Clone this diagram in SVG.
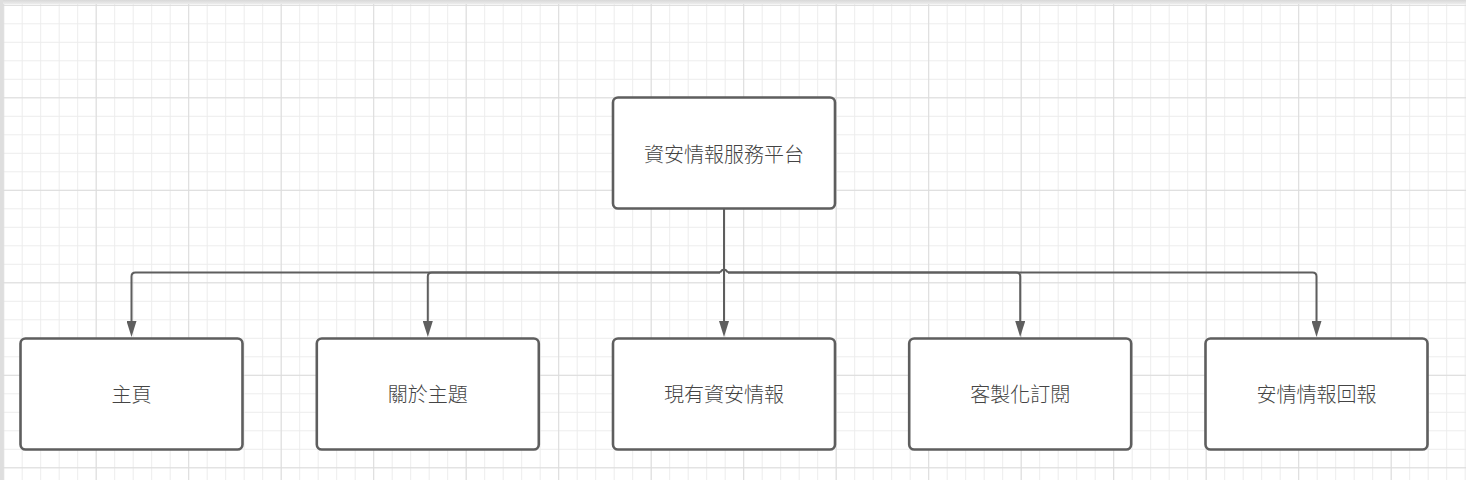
<svg xmlns="http://www.w3.org/2000/svg" width="1466" height="480" viewBox="0 0 1466 480">
  <defs>
    <pattern id="minor" patternUnits="userSpaceOnUse" x="3.2" y="4.8" width="18.5" height="18.5">
      <path d="M0 0.5 H18.5 M0.5 0 V18.5" stroke="#ececec" stroke-width="1" fill="none"/>
    </pattern>
    <pattern id="major" patternUnits="userSpaceOnUse" x="3.2" y="4.8" width="92.5" height="92.5">
      <path d="M0 0.5 H92.5 M0.5 0 V92.5" stroke="#dcdcdc" stroke-width="1" fill="none"/>
    </pattern>
    <linearGradient id="topbar" x1="0" y1="0" x2="0" y2="1">
      <stop offset="0" stop-color="#d8d8d8"/>
      <stop offset="1" stop-color="#ececec"/>
    </linearGradient>
    <marker id="arrow" markerUnits="userSpaceOnUse" markerWidth="16" markerHeight="10" refX="0" refY="5" orient="auto" viewBox="0 0 16 10">
      <path d="M0 0 L16 5 L0 10 Z" fill="#5e5e5e"/>
    </marker>
    <style>
      .node rect { fill: #ffffff; stroke: #5e5e5e; stroke-width: 2.6; }
      .node text { font-family: "Noto Sans CJK TC", "Noto Sans CJK SC", sans-serif; font-size: 20px; font-weight: 300; fill: #444444; text-anchor: middle; dominant-baseline: central; }
      .conn path { fill: none; stroke: #5e5e5e; stroke-width: 2; }
    </style>
  </defs>

  <rect width="1466" height="480" fill="#ffffff"/>
  <rect width="1466" height="480" fill="url(#minor)"/>
  <rect width="1466" height="480" fill="url(#major)"/>
  <rect x="0" y="0" width="1466" height="4" fill="url(#topbar)"/>
  <rect x="0" y="0" width="3" height="480" fill="#dedede"/>

  <g id="connectors" class="conn">
    <path d="M724 209 V321" marker-end="url(#arrow)"/>
    <path d="M720 272.5 H135.5 Q131.5 272.5 131.5 276.5 V321" marker-end="url(#arrow)"/>
    <path d="M720 272.5 H431.8 Q427.8 272.5 427.8 276.5 V321" marker-end="url(#arrow)"/>
    <path d="M720 272.5 Q724 266.5 728 272.5"/>
    <path d="M728 272.5 H1016.2 Q1020.2 272.5 1020.2 276.5 V321" marker-end="url(#arrow)"/>
    <path d="M728 272.5 H1312.5 Q1316.5 272.5 1316.5 276.5 V321" marker-end="url(#arrow)"/>
  </g>

  <g id="node-root" class="node">
    <rect x="613" y="97.5" width="222" height="111" rx="5"/>
    <text x="724" y="153">資安情報服務平台</text>
  </g>
  <g id="node-home" class="node">
    <rect x="20.5" y="338.5" width="222" height="111" rx="5"/>
    <text x="131.5" y="393">主頁</text>
  </g>
  <g id="node-about" class="node">
    <rect x="316.8" y="338.5" width="222" height="111" rx="5"/>
    <text x="427.8" y="393">關於主題</text>
  </g>
  <g id="node-current" class="node">
    <rect x="613" y="338.5" width="222" height="111" rx="5"/>
    <text x="724" y="393">現有資安情報</text>
  </g>
  <g id="node-subscribe" class="node">
    <rect x="909.2" y="338.5" width="222" height="111" rx="5"/>
    <text x="1020.2" y="393">客製化訂閱</text>
  </g>
  <g id="node-report" class="node">
    <rect x="1205.5" y="338.5" width="222" height="111" rx="5"/>
    <text x="1316.5" y="393">安情情報回報</text>
  </g>
</svg>
